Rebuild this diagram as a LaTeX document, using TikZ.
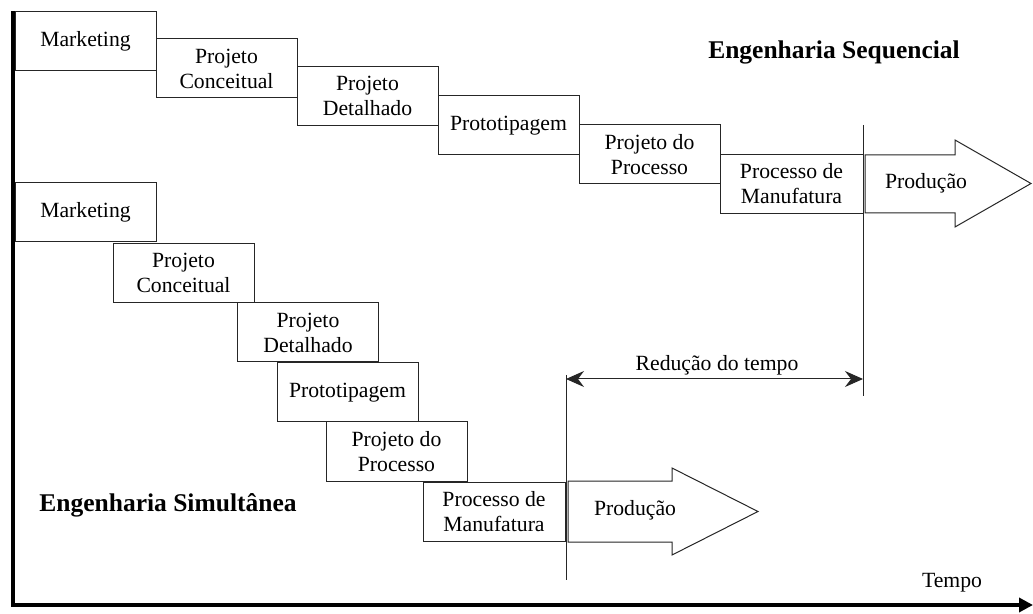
\documentclass[tikz,border=0pt]{standalone}
\usepackage{fontspec}
\setmainfont{LiberationSerif}[Extension=.ttf,UprightFont=*-Regular,BoldFont=*-Bold]
\usetikzlibrary{arrows.meta}
\begin{document}
\begin{tikzpicture}[x=0.5pt,y=-0.5pt,
  every node/.style={font=\fontsize{10.85pt}{12.5pt}\selectfont},
  stage/.style={draw=black!85,line width=0.5pt,fill=white,minimum width=70.5pt,
    minimum height=29.5pt,inner sep=0pt,align=center},
  title/.style={font=\fontsize{12.75pt}{15pt}\selectfont\bfseries},
  marker/.style={draw=black!85,line width=0.5pt},
  prod/.style={draw=black!85,line width=0.5pt,fill=white,line join=miter},
  axis/.style={line width=2pt,line join=miter}]
\useasboundingbox (0,0) rectangle (1033,614);

% time axes
\coordinate (origin) at (13,605);
\coordinate (ytop) at (13,11);
\coordinate (xend) at (1033,605);
\draw[axis,-{Triangle[length=7pt,width=7pt]}] (ytop) -- (origin) -- (xend);
\node (tempo) at (952,583) {Tempo};

% sequential engineering
\node[stage] (s1) at (85.5,41)   {Marketing};
\node[stage] (s2) at (226.5,68.5) {Projeto\\Conceitual};
\node[stage] (s3) at (367.5,96)  {Projeto\\Detalhado};
\node[stage] (s4) at (508.5,125.5) {Prototipagem};
\node[stage] (s5) at (649.5,154.5) {Projeto do\\Processo};
\node[stage,minimum width=71.5pt] (s6) at (791.5,184) {Processo de\\Manufatura};
\draw[prod] (865,155) -- (955,155) -- (955,140) -- (1031,183.5) -- (955,227)
  -- (955,213) -- (865,213) -- cycle;
\node (sprod) at (926,183) {Produção};
\node[title] (seqtitle) at (834,52) {Engenharia Sequencial};

% simultaneous engineering
\node[stage] (b1) at (85.5,212.5) {Marketing};
\node[stage] (b2) at (183.5,273)  {Projeto\\Conceitual};
\node[stage] (b3) at (308,332.5)  {Projeto\\Detalhado};
\node[stage] (b4) at (347.5,392.5) {Prototipagem};
\node[stage] (b5) at (396.5,451.5) {Projeto do\\Processo};
\node[stage,minimum width=71pt] (b6) at (494,511.5) {Processo de\\Manufatura};
\draw[prod] (568,481) -- (672,481) -- (672,468) -- (758,511.5) -- (672,555)
  -- (672,542) -- (568,542) -- cycle;
\node (bprod) at (635,510) {Produção};
\node[title] (simtitle) at (168,505) {Engenharia Simultânea};

% time reduction
\coordinate (seqtop) at (863,125);
\coordinate (seqbot) at (863,396);
\coordinate (simtop) at (566,375);
\coordinate (simbot) at (566,580);
\draw[marker] (seqtop) -- (seqbot);
\draw[marker] (simtop) -- (simbot);
\coordinate (rl) at (566,379);
\coordinate (rr) at (863,379);
\draw[marker,{Stealth[length=9pt,width=8pt,inset=3pt]}-{Stealth[length=9pt,width=8pt,inset=3pt]}] (rl) -- (rr);
\node (reducao) at (717,365) {Redução do tempo};
\end{tikzpicture}
\end{document}
